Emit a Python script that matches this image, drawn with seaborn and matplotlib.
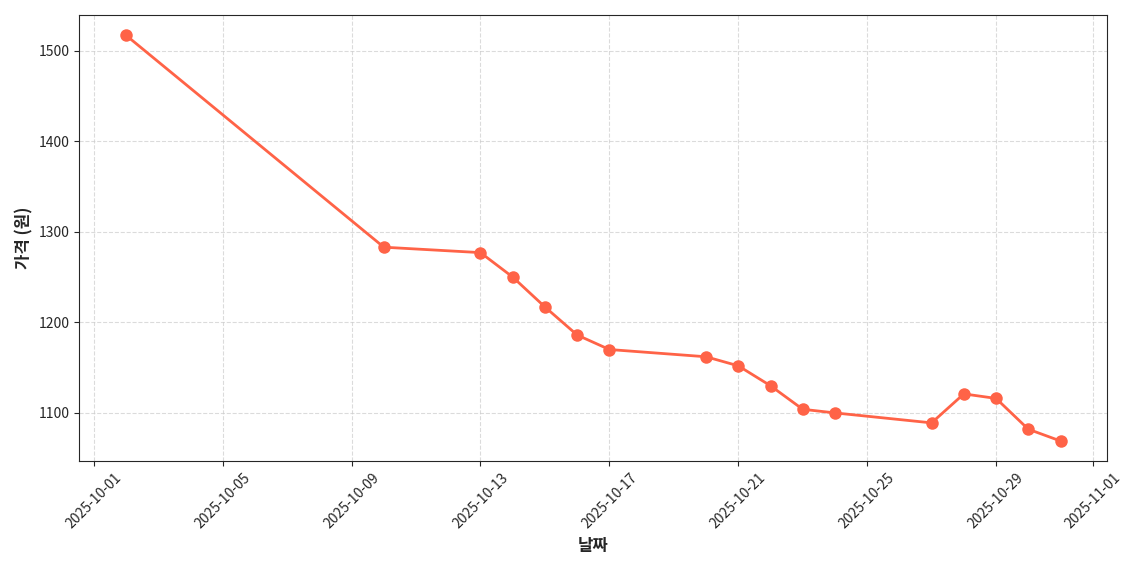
import matplotlib
matplotlib.use("Agg")
import matplotlib.pyplot as plt
import seaborn as sns
import pandas as pd
import matplotlib.dates as mdates

dates = ["2025-10-02","2025-10-10","2025-10-13","2025-10-14","2025-10-15","2025-10-16",
         "2025-10-17","2025-10-20","2025-10-21","2025-10-22","2025-10-23","2025-10-24",
         "2025-10-27","2025-10-28","2025-10-29","2025-10-30","2025-10-31"]
prices = [1517,1283,1277,1250,1217,1186,1170,1162,1152,1130,1104,1100,1089,1121,1116,1082,1069]

sns.set_style("ticks")
plt.rcParams['font.family'] = ['Noto Sans CJK KR', 'DejaVu Sans']

df = pd.DataFrame({"date": pd.to_datetime(dates), "price": prices})
fig, ax = plt.subplots(figsize=(11.4, 5.7), dpi=100)
sns.lineplot(data=df, x="date", y="price", ax=ax, color="#FF6347", linewidth=2,
             marker="o", markersize=9, markeredgewidth=0)
ax.grid(True, linestyle="--", alpha=0.7)
ax.xaxis.set_major_locator(mdates.DayLocator(bymonthday=[1,5,9,13,17,21,25,29]))
ax.xaxis.set_major_formatter(mdates.DateFormatter("%Y-%m-%d"))
plt.setp(ax.get_xticklabels(), rotation=45)
ax.set_xlabel("날짜", fontsize=12, fontweight="bold")
ax.set_ylabel("가격 (원)", fontsize=12, fontweight="bold")
fig.tight_layout()
fig.savefig("out.png")
